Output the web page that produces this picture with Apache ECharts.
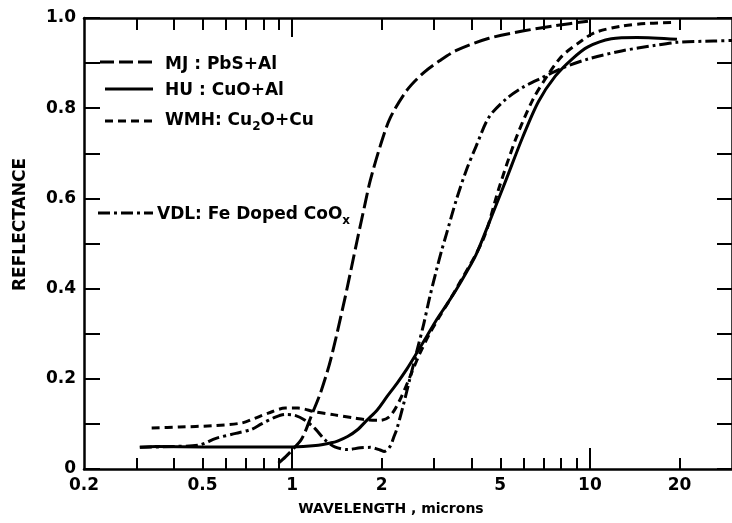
<!DOCTYPE html>
<html>
<head>
<meta charset="utf-8">
<script src="https://cdn.jsdelivr.net/npm/echarts@6/dist/echarts.min.js"></script>
<style>
  html, body { margin: 0; padding: 0; background: #fff; }
  #chart { width: 732px; height: 523px; }
</style>
</head>
<body>
<div id="chart"></div>
<script>
// Spectral reflectance of selective absorber coatings: [wavelength (microns), reflectance]
const mjPbSAl = [
  [0.90, 0.013], [0.95, 0.027], [1.0, 0.042], [1.07, 0.064], [1.105, 0.082], [1.157, 0.116],
  [1.25, 0.172], [1.35, 0.245], [1.50, 0.375], [1.595, 0.458], [1.657, 0.51], [1.76, 0.59],
  [1.83, 0.64], [1.976, 0.716], [2.133, 0.778], [2.43, 0.84], [2.767, 0.879], [3.126, 0.905],
  [3.56, 0.928], [4.58, 0.955], [5.94, 0.971], [7.65, 0.983], [9.85, 0.993]
];
const huCuOAl = [
  [0.308, 0.048], [0.35, 0.05], [0.5, 0.049], [0.8, 0.049], [1.0, 0.049], [1.2, 0.052],
  [1.35, 0.058], [1.42, 0.062], [1.535, 0.072], [1.657, 0.087], [1.788, 0.109], [1.931, 0.131],
  [2.084, 0.161], [2.25, 0.19], [2.43, 0.222], [2.62, 0.257], [2.83, 0.294], [3.055, 0.331],
  [3.30, 0.364], [3.56, 0.398], [3.84, 0.435], [4.15, 0.476], [4.58, 0.545], [5.22, 0.64],
  [5.94, 0.735], [6.72, 0.815], [7.65, 0.871], [8.71, 0.909], [9.85, 0.936], [11.8, 0.954],
  [14.4, 0.957], [19.6, 0.953]
];
const wmhCu2OCu = [
  [0.3375, 0.091], [0.418, 0.093], [0.538, 0.096], [0.677, 0.102], [0.753, 0.113], [0.832, 0.124],
  [0.948, 0.135], [1.047, 0.135], [1.192, 0.127], [1.39, 0.12], [1.62, 0.113], [1.79, 0.109],
  [1.976, 0.108], [2.13, 0.117], [2.30, 0.153], [2.485, 0.204], [2.68, 0.255], [2.895, 0.3],
  [3.126, 0.338], [3.376, 0.374], [3.56, 0.4], [4.38, 0.509], [4.945, 0.622], [5.63, 0.731],
  [6.42, 0.818], [7.25, 0.875], [8.07, 0.916], [9.40, 0.95], [10.4, 0.968], [12.77, 0.982],
  [15.58, 0.988], [19.2, 0.99]
];
const vdlFeCoOx = [
  [0.308, 0.048], [0.40, 0.05], [0.487, 0.053], [0.555, 0.068], [0.647, 0.079], [0.731, 0.088],
  [0.789, 0.1], [0.878, 0.115], [0.948, 0.121], [1.023, 0.119], [1.105, 0.108], [1.192, 0.09],
  [1.287, 0.065], [1.39, 0.049], [1.535, 0.043], [1.694, 0.047], [1.83, 0.048], [1.976, 0.042],
  [2.037, 0.039], [2.133, 0.05], [2.198, 0.072], [2.25, 0.09], [2.374, 0.147], [2.485, 0.2],
  [2.62, 0.26], [2.767, 0.322], [2.895, 0.38], [3.055, 0.442], [3.176, 0.484], [3.30, 0.522],
  [3.56, 0.597], [3.843, 0.662], [4.15, 0.716], [4.58, 0.78], [5.22, 0.82], [5.94, 0.846],
  [6.93, 0.868], [8.07, 0.889], [9.85, 0.909], [12.77, 0.927], [16.44, 0.939], [19.6, 0.946],
  [26, 0.949], [30, 0.95]
];

// Axis ticks and labels
const xLabelTicks = [0.2, 0.5, 1, 2, 5, 10, 20];
const xMinorTicks = [0.3, 0.4, 0.5, 0.6, 0.7, 0.8, 0.9, 2, 3, 4, 5, 6, 7, 8, 9, 20];
const xMajorTicks = [1, 10];
const yLabelTicks = [0, 0.2, 0.4, 0.6, 0.8, 1.0];

const FONT = 'DejaVu Sans';
const INK = '#000';

const chart = echarts.init(document.getElementById('chart'), null, { renderer: 'canvas' });

function xAxisDef(position, tickValues, tickLen, withLine, withLabels) {
  return {
    type: 'log', logBase: 10, min: 0.2, max: 30, position: position,
    axisLine: { show: withLine, onZero: false, lineStyle: { color: INK, width: 2.5 } },
    axisTick: { show: true, inside: true, length: tickLen, customValues: tickValues,
                lineStyle: { color: INK, width: 2 } },
    axisLabel: withLabels ? {
      show: true, customValues: xLabelTicks, margin: 8, color: INK,
      fontFamily: FONT, fontSize: 17, fontWeight: 'bold',
      formatter: v => String(+Number(v).toPrecision(3))
    } : { show: false },
    splitLine: { show: false },
    minorTick: { show: false }
  };
}

const xAxes = [
  xAxisDef('bottom', xMinorTicks, 11, true, true),
  xAxisDef('bottom', xMajorTicks, 21, false, false),
  xAxisDef('top', xMinorTicks, 12, true, false),
  xAxisDef('top', xMajorTicks, 19, false, false)
];
xAxes[0].name = 'WAVELENGTH , microns';
xAxes[0].nameLocation = 'middle';
xAxes[0].nameGap = 33;
xAxes[0].nameTextStyle = { color: INK, fontFamily: FONT, fontSize: 14, fontWeight: 'bold', padding: [0, 34, 0, 0] };

const yAxes = [
  {
    type: 'value', min: 0, max: 1, interval: 0.1, position: 'left',
    name: 'REFLECTANCE', nameLocation: 'middle', nameGap: 55, nameRotate: 90,
    nameTextStyle: { color: INK, fontFamily: FONT, fontSize: 17, fontWeight: 'bold', padding: [0, 0, 0, 38] },
    axisLine: { show: true, onZero: false, lineStyle: { color: INK, width: 2.5 } },
    axisTick: { show: true, inside: true, length: 16, lineStyle: { color: INK, width: 2 } },
    axisLabel: {
      show: true, customValues: yLabelTicks, margin: 8, color: INK,
      fontFamily: FONT, fontSize: 17, fontWeight: 'bold',
      formatter: v => (v === 0 ? '0' : Number(v).toFixed(1))
    },
    splitLine: { show: false }
  },
  {
    type: 'value', min: 0, max: 1, interval: 0.1, position: 'right',
    axisLine: { show: true, onZero: false, lineStyle: { color: INK, width: 2.5 } },
    axisTick: { show: true, inside: true, length: 15, lineStyle: { color: INK, width: 2 } },
    axisLabel: { show: false },
    splitLine: { show: false }
  }
];

function curve(name, data, dash) {
  return {
    name: name, type: 'line', data: data, xAxisIndex: 0, yAxisIndex: 0,
    showSymbol: false, symbol: 'none', smooth: 0.3,
    lineStyle: { color: INK, width: 3, type: dash, cap: 'butt', join: 'round' },
    emphasis: { disabled: true }, silent: true, clip: true, z: 3
  };
}

// Key drawn inside the plot area: sample line plus label
function keyLine(x1, x2, y, dash) {
  return { type: 'line', silent: true, z: 10,
           shape: { x1: x1, y1: y, x2: x2, y2: y },
           style: { stroke: INK, lineWidth: 3, lineDash: dash, lineCap: 'butt' } };
}
function keyText(x, y, text) {
  return { type: 'text', silent: true, z: 10, x: x, y: y,
           style: {
             text: text, verticalAlign: 'middle', align: 'left', fill: INK,
             fontFamily: FONT, fontSize: 17, fontWeight: 'bold',
             rich: {
               a: { fontFamily: FONT, fontSize: 17, fontWeight: 'bold', color: INK, lineHeight: 24, verticalAlign: 'middle' },
               s: { fontFamily: FONT, fontSize: 12, fontWeight: 'bold', color: INK, lineHeight: 24, verticalAlign: 'bottom' }
             }
           } };
}

chart.setOption({
  animation: false,
  backgroundColor: '#fff',
  grid: { left: 84, top: 18, width: 655, bottom: 54, containLabel: false },
  xAxis: xAxes,
  yAxis: yAxes,
  series: [
    curve('MJ: PbS+Al', mjPbSAl, [16, 5]),
    curve('HU: CuO+Al', huCuOAl, 'solid'),
    curve('WMH: Cu2O+Cu', wmhCu2OCu, [8, 5]),
    curve('VDL: Fe Doped CoOx', vdlFeCoOx, [12, 4, 3, 4])
  ],
  graphic: [
    keyLine(100, 153, 62, [14, 5]),
    keyText(165, 65, '{a|MJ : PbS+Al}'),
    keyLine(105, 153, 89, null),
    keyText(165, 91, '{a|HU : CuO+Al}'),
    keyLine(105, 153, 121, [8, 5]),
    keyText(165, 121, '{a|WMH: Cu}{s|2}{a|O+Cu}'),
    keyLine(98, 153, 213, [12, 4, 3, 4]),
    keyText(157, 215, '{a|VDL: Fe Doped CoO}{s|x}')
  ]
});
</script>
</body>
</html>
